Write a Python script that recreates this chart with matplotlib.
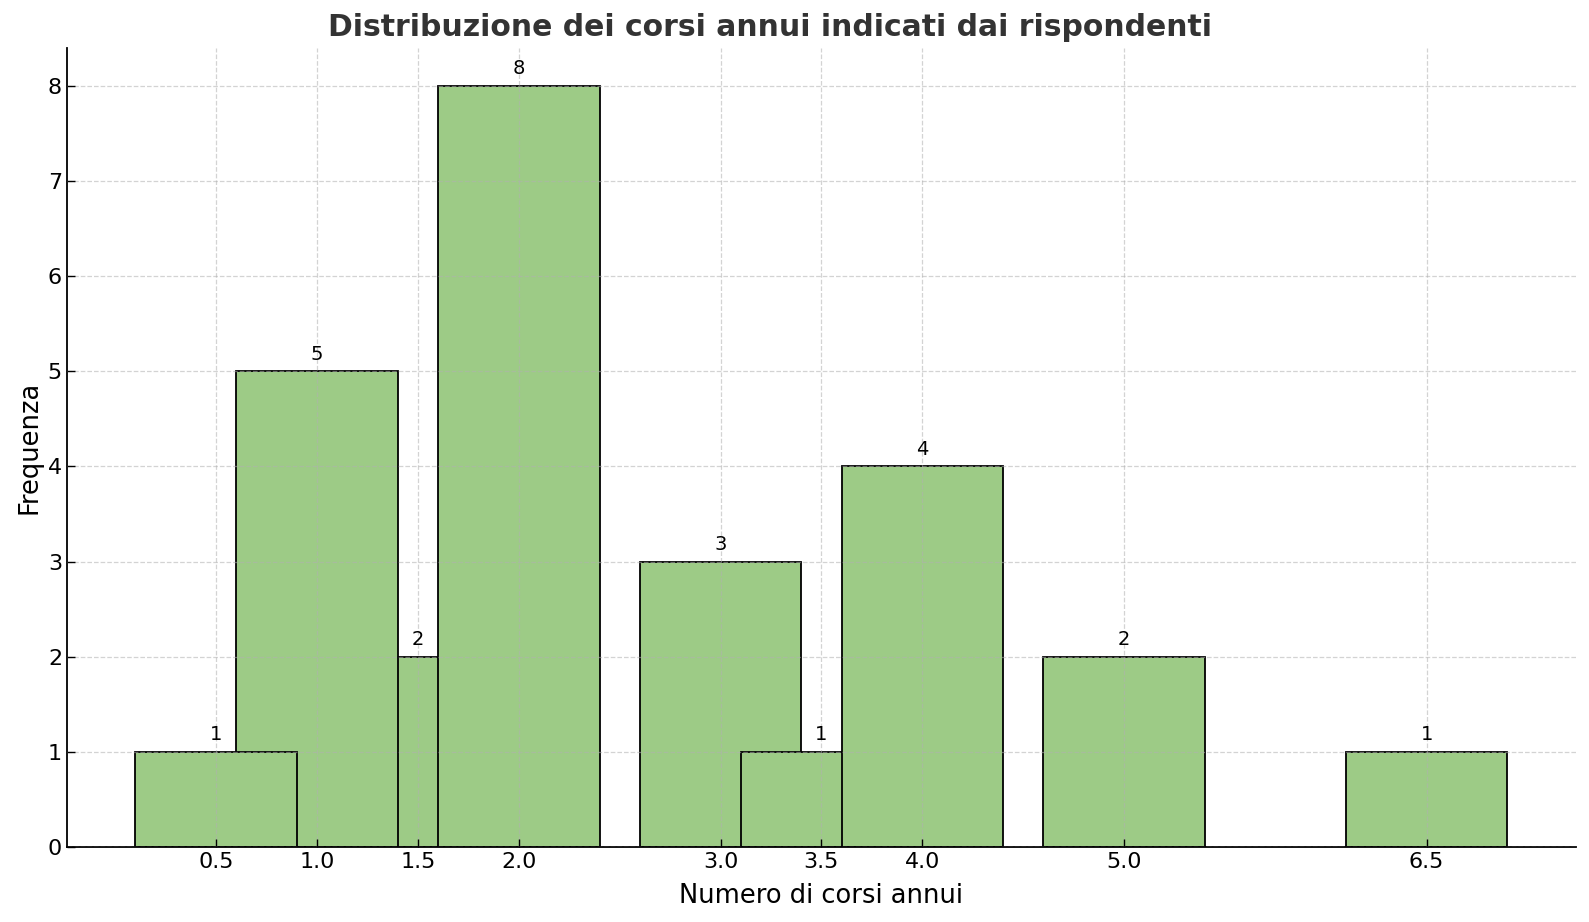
import matplotlib.pyplot as plt

# order of the original data (later bars are drawn over earlier ones)
corsi = [1.5, 1.0, 0.5, 2.0, 3.0, 3.5, 4.0, 5.0, 6.5]
frequenze = [2, 5, 1, 8, 3, 1, 4, 2, 1]
tick_pos = [0.5, 1.0, 1.5, 2.0, 3.0, 3.5, 4.0, 5.0, 6.5]
tick_labels = ["0.5", "1.0", "1.5", "2.0", "3.0", "3.5", "4.0", "5.0", "6.5"]

plt.rcParams["font.family"] = "DejaVu Sans"

fig, ax = plt.subplots(figsize=(15.89, 9.22), dpi=100)
fig.subplots_adjust(left=0.0421, right=0.9918, top=0.9484, bottom=0.0811)

bars = ax.bar(corsi, frequenze, width=0.8, color="#9dcb86",
              edgecolor="black", linewidth=1.3, zorder=2)
ax.grid(True, ls="--", color="#b0b0b0", lw=0.9, alpha=0.55, zorder=3)
ax.set_axisbelow(False)

for b, v in zip(bars, frequenze):
    ax.text(b.get_x() + b.get_width() / 2, v + 0.08, str(v),
            ha="center", va="bottom", fontsize=14, zorder=4)

ax.set_xticks(tick_pos)
ax.set_xticklabels(tick_labels)
ax.tick_params(direction="in", labelsize=16, length=6, width=1)
ax.set_xlabel("Numero di corsi annui", fontsize=18.5, labelpad=8)
ax.set_ylabel("Frequenza", fontsize=18.5)
ax.set_title("Distribuzione dei corsi annui indicati dai rispondenti",
             fontsize=21.5, fontweight="bold", color="#333333", pad=8, x=0.466)
for s in ["top", "right"]:
    ax.spines[s].set_visible(False)
for s in ["left", "bottom"]:
    ax.spines[s].set_linewidth(1.3)

fig.savefig("out.png", dpi=100)
